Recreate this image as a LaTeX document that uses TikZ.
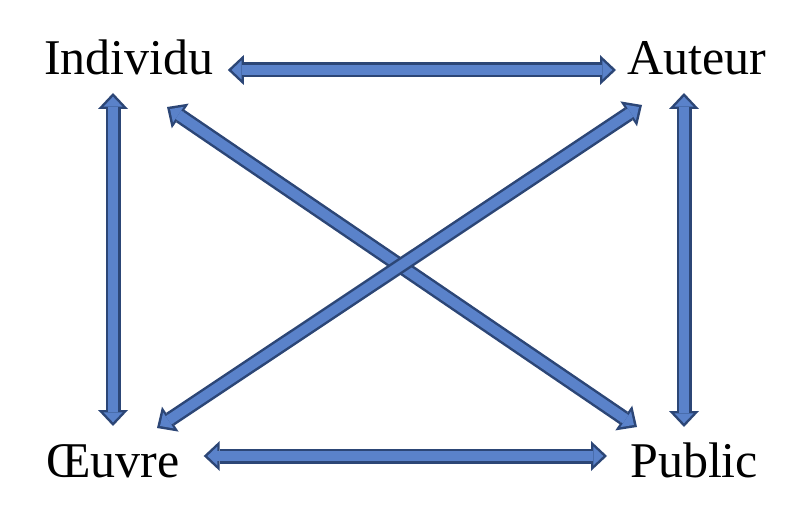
\documentclass[tikz,border=0pt]{standalone}
\usepackage{fontspec}
\setmainfont{Liberation Serif}
\usepackage{tikz}
\usetikzlibrary{arrows.meta}
\definecolor{arrowfill}{RGB}{90,130,202}
\definecolor{arrowedge}{RGB}{44,70,118}
\tikzset{
  word/.style = {inner sep=0pt, anchor=base west,
                 font=\fontsize{50}{60}\selectfont},
  blockarrow/.style = {draw=arrowedge, line width=15pt,
                 {Triangle[length=16pt, width=30pt, line width=0pt]}-{Triangle[length=16pt, width=30pt, line width=0pt]},
                 postaction={draw=arrowfill, line width=10pt,
                   shorten <=3.7pt, shorten >=3.7pt,
                   {Triangle[length=10pt, width=19pt, line width=0pt]}-{Triangle[length=10pt, width=19pt, line width=0pt]}}}
}
\begin{document}
\begin{tikzpicture}[x=1pt, y=-1pt]
            \useasboundingbox (0,0) rectangle (800,526);
            \node (ind) [word] at (44,75) {Individu};
            \node (aut) [word] at (627,75) {Auteur};
            \node (oeu) [word] at (46,477) {Œuvre};
            \node (pub) [word] at (630,477) {Public};

            \draw [blockarrow] ([shift={(14,-5)}]ind.base east) -- ([shift={(-11,-5)}]aut.base west);
            \draw [blockarrow] ([shift={(24,-21)}]oeu.base east) -- ([shift={(-23,-21)}]pub.base west);
            \draw [blockarrow] ([shift={(69,18)}]ind.base west) -- ([shift={(67,-51)}]oeu.base west);
            \draw [blockarrow] ([shift={(57,18)}]aut.base west) -- ([shift={(54,-50)}]pub.base west);
            \draw [blockarrow] ([shift={(123,32)}]ind.base west) -- ([shift={(7,-50)}]pub.base west);
            \draw [blockarrow] ([shift={(15,30)}]aut.base west) -- ([shift={(111,-49)}]oeu.base west);
        \end{tikzpicture}
\end{document}
